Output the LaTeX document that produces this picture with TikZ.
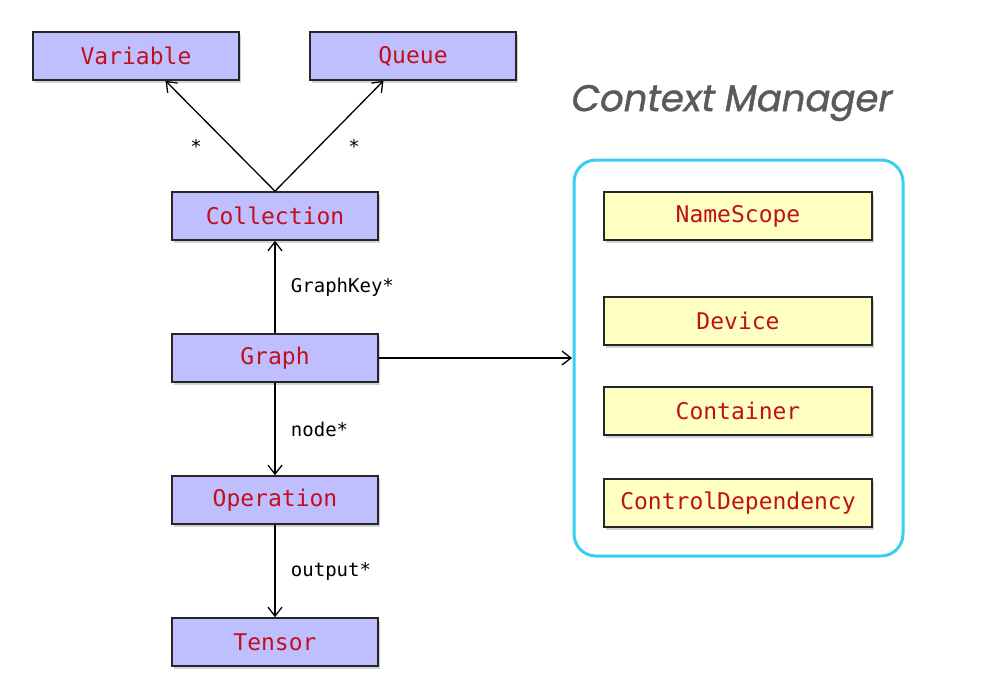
\documentclass[tikz,border=0pt]{standalone}
\usepackage{fontspec}
\setmonofont{DejaVu Sans Mono}
\newfontfamily\titlefont[FakeSlant=0.18,FakeBold=1.2]{Poppins}
\usetikzlibrary{shadows,arrows.meta}
\definecolor{classblue}{HTML}{BFBFFF}
\definecolor{ctxyellow}{HTML}{FFFFC2}
\definecolor{namered}{HTML}{C0101C}
\definecolor{ctxcyan}{HTML}{38D0F0}
\definecolor{titlegray}{HTML}{5A5A5A}
\tikzset{
  classbox/.style={draw=black!85,line width=1.6pt,fill=classblue,minimum width=206pt,minimum height=48pt,
    inner sep=0pt,text=namered,font=\ttfamily\fontsize{23}{27}\selectfont,
    drop shadow={shadow xshift=2pt,shadow yshift=-3pt,opacity=.35}},
  ctxbox/.style={classbox,fill=ctxyellow,minimum width=268pt},
  rel/.style={draw,line width=1.3pt,-{Straight Barb[length=9pt,width=14pt,line width=1.3pt]}},
  rellabel/.style={font=\ttfamily\fontsize{19}{22}\selectfont,text=black}
}
\begin{document}
\begin{tikzpicture}[x=1pt,y=-1pt]
\useasboundingbox (0,0) rectangle (996,691);
\node[classbox] (variable) at (136,56) {Variable};
\node[classbox] (queue) at (413,56) {Queue};
\node[classbox] (collection) at (275,216) {Collection};
\node[classbox] (graph) at (275,358) {Graph};
\node[classbox] (operation) at (275,500) {Operation};
\node[classbox] (tensor) at (275,642) {Tensor};
\draw[ctxcyan,line width=3pt,rounded corners=22pt] (574,160) rectangle (903,556);
\node[font=\titlefont\fontsize{37}{42}\selectfont,text=titlegray] (ctxtitle) at (730,103) {Context Manager};
\node[ctxbox] (namescope) at (738,216) {NameScope};
\node[ctxbox] (device) at (738,321) {Device};
\node[ctxbox] (container) at (738,411) {Container};
\node[ctxbox] (ctrldep) at (738,503) {ControlDependency};
\coordinate (ctxleft) at (572,358);
\draw[rel] (collection.north) -- (variable.-40);
\draw[rel] (collection.north) -- (queue.-140);
\node[rellabel] (varstar) at (196,146) {*};
\node[rellabel] (queuestar) at (354,146) {*};
\draw[rel] (graph) -- node[rellabel,midway,right=12pt] {GraphKey*} (collection);
\draw[rel] (graph) -- node[rellabel,midway,right=12pt] {node*} (operation);
\draw[rel] (operation) -- node[rellabel,midway,right=12pt] {output*} (tensor);
\draw[rel] (graph.east) -- (ctxleft);
\end{tikzpicture}
\end{document}
